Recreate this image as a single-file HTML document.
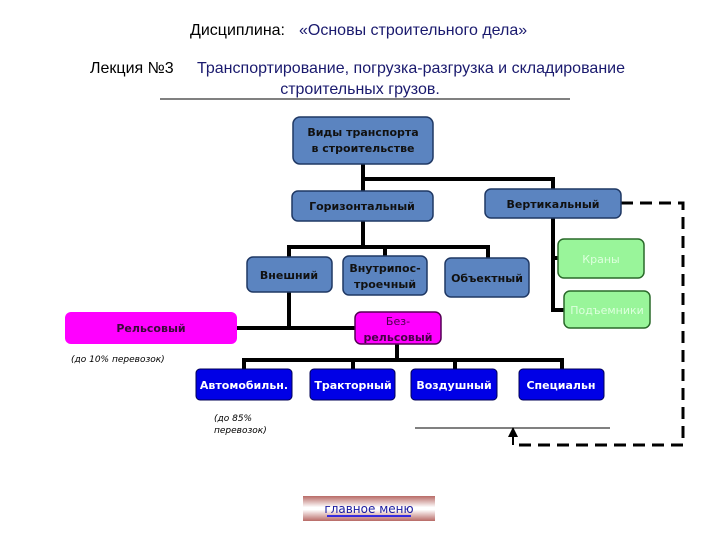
<!DOCTYPE html>
<html><head><meta charset="utf-8"><style>
html,body{margin:0;padding:0;background:#fff}
body{width:720px;height:540px;overflow:hidden}
text{font-family:"DejaVu Sans","Liberation Sans",sans-serif}
.h{font-family:"Liberation Sans",sans-serif}
</style></head><body>
<svg width="720" height="540" viewBox="0 0 720 540" xmlns="http://www.w3.org/2000/svg">
<defs>
<linearGradient id="g" x1="0" y1="0" x2="0" y2="1">
<stop offset="0" stop-color="#b86a66"/><stop offset="0.45" stop-color="#ffffff"/><stop offset="0.55" stop-color="#ffffff"/><stop offset="1" stop-color="#b86a66"/>
</linearGradient>
</defs>
<text class="h" x="190" y="35" font-size="16" fill="#000">Дисциплина:</text>
<text class="h" x="299" y="35" font-size="16" fill="#1a1a6e">«Основы строительного дела»</text>
<text class="h" x="90" y="73" font-size="16" fill="#000">Лекция №3</text>
<text class="h" x="411" y="73" font-size="16" text-anchor="middle" fill="#1a1a6e" textLength="428">Транспортирование, погрузка-разгрузка и складирование</text>
<text class="h" x="360" y="94" font-size="16" text-anchor="middle" fill="#1a1a6e">строительных грузов.</text>
<line x1="160" y1="99" x2="570" y2="99" stroke="#000" stroke-width="1"/>

<g stroke="#000" stroke-width="4" fill="none">
<polyline points="363,164 363,179 553,179 553,189"/>
<line x1="363" y1="179" x2="363" y2="191"/>
<polyline points="363,221 363,247"/>
<polyline points="289,257 289,247 488,247 488,258"/>
<line x1="385" y1="247" x2="385" y2="256"/>
<polyline points="553,218 553,310 564,310"/>
<line x1="553" y1="258" x2="558" y2="258"/>
<polyline points="289,292 289,328"/>
<line x1="237" y1="328" x2="355" y2="328"/>
<line x1="397" y1="344" x2="397" y2="360"/>
<polyline points="244,369 244,360 562,360 562,369"/>
<line x1="353" y1="360" x2="353" y2="369"/>
<line x1="455" y1="360" x2="455" y2="369"/>
</g>
<g stroke="#000" stroke-width="3" fill="none" stroke-dasharray="12,7">
<polyline points="621,203 683,203 683,445 513,445"/>
</g>
<line x1="513" y1="445" x2="513" y2="436" stroke="#000" stroke-width="2"/>
<polygon points="513,427 508,437 518,437" fill="#000"/>
<line x1="415" y1="428" x2="610" y2="428" stroke="#000" stroke-width="1"/>

<g stroke="#1f3864" stroke-width="1.5" fill="#5b84c0">
<rect x="293" y="117" width="140" height="47" rx="7"/>
<rect x="292" y="191" width="141" height="30" rx="6"/>
<rect x="485" y="189" width="136" height="29" rx="6"/>
<rect x="247" y="257" width="85" height="35" rx="6"/>
<rect x="343" y="256" width="84" height="39" rx="6"/>
<rect x="445" y="258" width="84" height="39" rx="6"/>
</g>
<g stroke="#2a6a2a" stroke-width="1.5" fill="#99f59a">
<rect x="558" y="239" width="86" height="39" rx="6"/>
<rect x="564" y="291" width="86" height="37" rx="6"/>
</g>
<g fill="#ff00ff">
<rect x="65" y="312" width="172" height="32" rx="6"/>
<rect x="355" y="312" width="86" height="32" rx="6" stroke="#550055" stroke-width="1.5"/>
</g>
<g fill="#0000e6" stroke="#000055" stroke-width="1">
<rect x="196" y="369" width="96" height="31" rx="4"/>
<rect x="310" y="369" width="85" height="31" rx="4"/>
<rect x="411" y="369" width="86" height="31" rx="4"/>
<rect x="519" y="369" width="85" height="31" rx="4"/>
</g>

<g font-size="11" font-weight="bold" text-anchor="middle" fill="#111">
<text x="363" y="136">Виды транспорта</text>
<text x="363" y="152">в строительстве</text>
<text x="362" y="210">Горизонтальный</text>
<text x="553" y="208">Вертикальный</text>
<text x="289" y="279">Внешний</text>
<text x="385" y="272">Внутрипос-</text>
<text x="385" y="288">троечный</text>
<text x="487" y="282">Объектный</text>
<text x="151" y="332" fill="#3a0a3a">Рельсовый</text>
<text x="398" y="325" fill="#4a004a" font-weight="normal">Без-</text>
<text x="398" y="341" fill="#4a004a">рельсовый</text>
<text x="601" y="263" fill="#ddffdd" font-weight="normal">Краны</text>
<text x="607" y="314" fill="#ddffdd" font-weight="normal">Подъемники</text>
<g fill="#fff">
<text x="244" y="389">Автомобильн.</text>
<text x="353" y="389">Трактоpный</text>
<text x="454" y="389">Воздушный</text>
<text x="561" y="389">Специальн</text>
</g>
</g>
<g font-size="9" font-style="italic" fill="#000">
<text x="71" y="362">(до 10% перевозок)</text>
<text x="214" y="421">(до 85%</text>
<text x="214" y="433">перевозок)</text>
</g>
<rect x="303" y="496" width="132" height="25" fill="url(#g)"/>
<text x="369" y="513" font-size="12" text-anchor="middle" fill="#1a1aa0">главное меню</text>
<line x1="327" y1="516" x2="411" y2="516" stroke="#0000ee" stroke-width="1.5"/>
</svg>
</body></html>
